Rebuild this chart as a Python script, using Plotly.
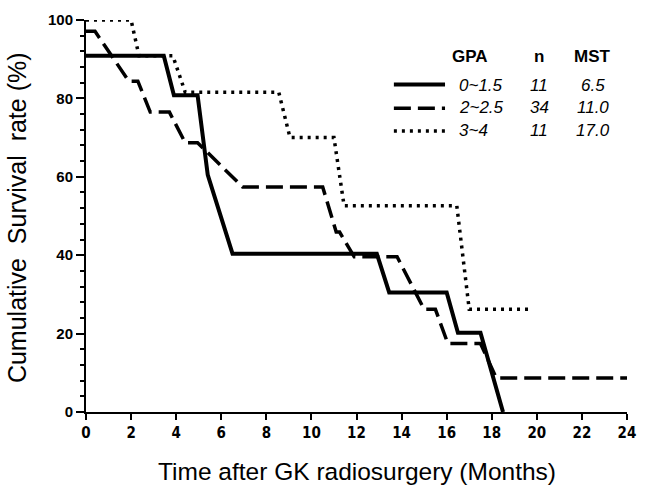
import plotly.graph_objects as go

# ---- data ----
gpa_groups = ["0~1.5", "2~2.5", "3~4"]
n_values = ["11", "34", "11"]
mst_values = ["6.5", "11.0", "17.0"]

solid_x = [0, 3.45, 3.9, 4.95, 5.4, 6.5, 12.9, 13.45, 16.0, 16.5, 17.5, 18.5]
solid_y = [90.9, 90.9, 80.8, 80.8, 60.5, 40.4, 40.4, 30.5, 30.5, 20.2, 20.2, 0]

dashed_x = [0, 0.4, 1.9, 2.3, 2.85, 3.7, 4.4, 4.95, 6.95, 10.5, 11.1, 11.25, 11.9, 13.8,
            15.0, 15.5, 16.05, 17.5, 18.2, 24]
dashed_y = [97.1, 97.1, 84.4, 84.4, 76.5, 76.5, 68.7, 68.7, 57.4, 57.4, 45.9, 45.9, 39.6, 39.6,
            26.2, 26.2, 17.5, 17.5, 8.7, 8.7]

dotted_x = [0, 2.0, 2.35, 3.85, 4.4, 8.55, 9.05, 11.0, 11.45, 16.45, 17.0, 19.75]
dotted_y = [100, 100, 90.9, 90.9, 81.6, 81.6, 70.0, 70.0, 52.6, 52.6, 26.2, 26.2]

x_ticks = list(range(0, 25, 2))
y_ticks = [0, 20, 40, 60, 80, 100]

W, H = 647, 486
ML, MR, MT, MB = 86, 11, 14, 74
PW, PH = W - ML - MR, H - MT - MB


def px(x):
    return (x - ML) / PW


def py(y):
    return (H - MB - y) / PH


FONT = "Liberation Sans, Arial, sans-serif"
NARROW = "Liberation Sans Narrow, Arial Narrow, DejaVu Sans Condensed, Liberation Sans, sans-serif"
styles = [
    dict(width=4, dash="solid"),
    dict(width=3.5, dash="17px,7px"),
    dict(width=3.5, dash="3px,5px"),
]

fig = go.Figure()
for xs, ys, st, name in zip([solid_x, dashed_x, dotted_x], [solid_y, dashed_y, dotted_y], styles, gpa_groups):
    fig.add_trace(go.Scatter(x=xs, y=ys, mode="lines", name=name, cliponaxis=False,
                             line=dict(color="black", width=st["width"], dash=st["dash"]),
                             showlegend=False))

fig.update_layout(
    width=W, height=H,
    margin=dict(l=ML, r=MR, t=MT, b=MB),
    paper_bgcolor="white", plot_bgcolor="white",
    showlegend=False,
    xaxis=dict(range=[0, 24], tickvals=x_ticks, ticktext=[str(v) for v in x_ticks],
               showgrid=False, zeroline=False, showline=True, linecolor="black", linewidth=2,
               ticks="outside", ticklen=6, tickwidth=2, tickcolor="black",
               tickfont=dict(family=NARROW, size=15, color="black", weight="bold")),
    yaxis=dict(range=[0, 100], tickvals=y_ticks, ticktext=[str(v) for v in y_ticks],
               showgrid=False, zeroline=False, showline=True, linecolor="black", linewidth=2,
               ticks="outside", ticklen=8, tickwidth=2, tickcolor="black",
               minor=dict(dtick=4, ticks="outside", ticklen=4, tickwidth=1.5, tickcolor="black"),
               tickfont=dict(family=FONT, size=15, color="black", weight="bold")),
)

# axis titles
fig.add_annotation(x=0.5, y=py(472), xref="paper", yref="paper", showarrow=False,
                   text="Time after GK radiosurgery (Months)", xanchor="center", yanchor="middle",
                   font=dict(family=FONT, size=24.5, color="black"))
fig.add_annotation(x=px(16.5), y=py(214.5), xref="paper", yref="paper", showarrow=False,
                   text="Cumulative\u00a0\u00a0Survival\u00a0\u00a0rate (%)", textangle=-90,
                   xanchor="center", yanchor="middle",
                   font=dict(family=FONT, size=25, color="black"))

# legend table
hdr_y = py(51)
for txt, xc in [("GPA", 476), ("n", 547), ("MST", 601)]:
    fig.add_annotation(x=px(xc), y=hdr_y, xref="paper", yref="paper", showarrow=False,
                       text=f"<b>{txt}</b>", xanchor="center", yanchor="middle",
                       font=dict(family=FONT, size=17, color="black"))

row_text_y = [80, 103, 126.5]
row_line_y = [79.5, 103.5, 126.7]
for i, (g, n, m) in enumerate(zip(gpa_groups, n_values, mst_values)):
    fig.add_shape(type="line", xref="paper", yref="paper",
                  x0=px(399), x1=px(451), y0=py(row_line_y[i]), y1=py(row_line_y[i]),
                  line=dict(color="black", width=styles[i]["width"], dash=styles[i]["dash"]))
    fig.add_annotation(x=px(463), y=py(row_text_y[i]), xref="paper", yref="paper", showarrow=False,
                       text=f"<i>{g}</i>", xanchor="left", yanchor="middle",
                       font=dict(family=FONT, size=17, color="black"))
    fig.add_annotation(x=px(547), y=py(row_text_y[i]), xref="paper", yref="paper", showarrow=False,
                       text=f"<i>{n}</i>", xanchor="center", yanchor="middle",
                       font=dict(family=FONT, size=17, color="black"))
    fig.add_annotation(x=px(601), y=py(row_text_y[i]), xref="paper", yref="paper", showarrow=False,
                       text=f"<i>{m}</i>", xanchor="center", yanchor="middle",
                       font=dict(family=FONT, size=17, color="black"))

fig.write_html("out.html")
